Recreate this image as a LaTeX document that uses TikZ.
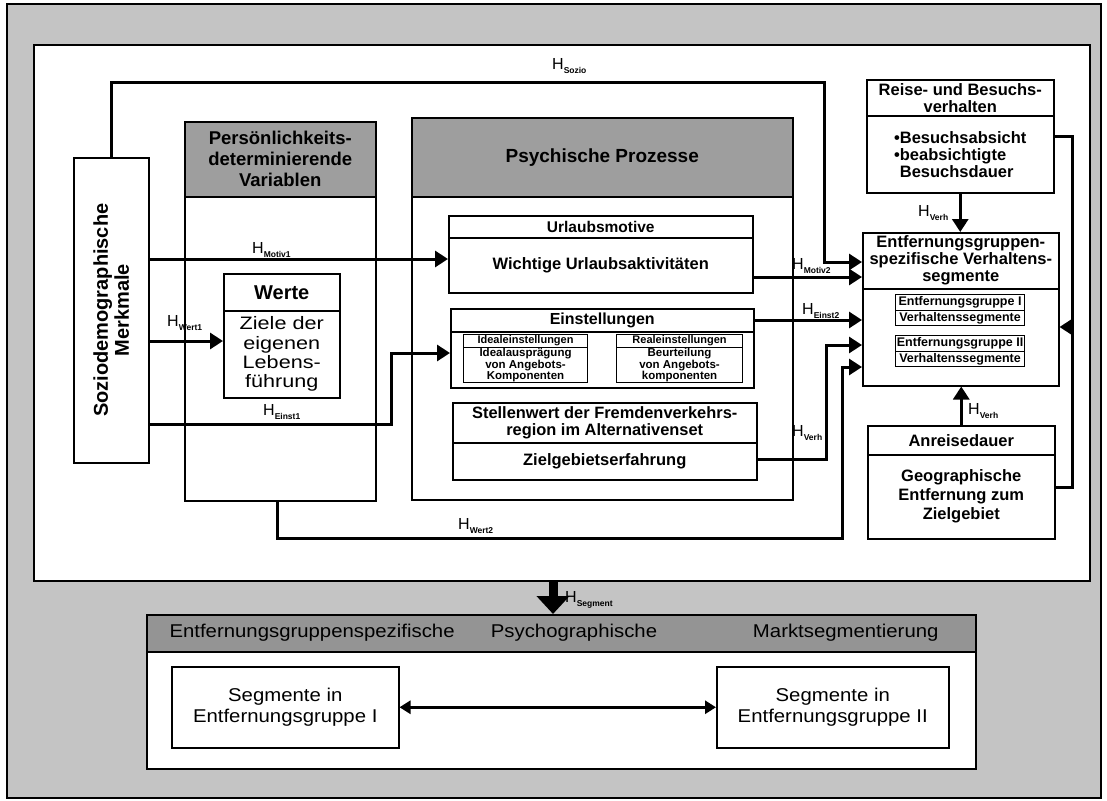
\documentclass[tikz,border=0pt]{standalone}
\usepackage{fontspec}
\setmainfont{Liberation Sans}
\newfontfamily\widefont[FakeStretch=1.1]{Liberation Sans}
\newfontfamily\werfont[FakeStretch=1.2]{Liberation Sans}
\usetikzlibrary{arrows.meta}
\definecolor{bggray}{gray}{0.77}
\definecolor{hdgray}{gray}{0.62}
\definecolor{btgray}{gray}{0.58}
\newcommand\fsz[2]{\fontsize{#1}{#2}\selectfont}
\newcommand\hlab[1]{{\fsz{16}{16}H}{\fsz{8.5}{9}\bfseries\raisebox{-4pt}{#1}}}

\begin{document}
\begin{tikzpicture}[x=1pt,y=-1pt,
  bx/.style={draw, line width=1.5pt, fill=white, inner sep=0pt, anchor=north west, align=center},
  sbx/.style={bx, line width=1.1pt},
  wh/.style 2 args={minimum width=#1pt, minimum height=#2pt},
  hd/.style={fill=hdgray},
  conn/.style={line width=3pt},
  arr/.style={conn, -{Triangle[length=13pt,width=16pt]}},
  hl/.style={anchor=base west, inner sep=0pt},
  bot/.style={font={\widefont\fsz{18.5}{21}}},
]
\useasboundingbox (0,0) rectangle (1107,800);
\fill[white] (0,0) rectangle (1107,800);

% screened background and white working panel
\filldraw[fill=bggray, draw=black, line width=1.5pt] (7,4) rectangle (1101,798);
\node[bx, wh={1056}{536}, line width=1.6pt] (panel) at (33,44) {};

% socio-demographic characteristics
\node[bx, wh={75}{305}] (soz) at (73,157) {};
\node[rotate=90, align=center, font={\fsz{20}{21}\bfseries}] (sozT) at (soz.center) {Soziodemographische\\Merkmale};

% personality variables
\node[bx, hd, wh={191}{75}, font={\fsz{18.5}{21}\bfseries}] (persH) at (184,121) {Persönlichkeits-\\determinierende\\Variablen};
\node[bx, wh={191}{304}] (persB) at (184,196) {};

% psychological processes
\node[bx, hd, wh={381}{79}, font={\fsz{19}{21}\bfseries}] (psyH) at (411,117) {Psychische Prozesse};
\node[bx, wh={381}{303}] (psyB) at (411,196) {};

\node[bx, wh={304}{22}, font={\fsz{15.5}{16}\bfseries}] (urlH) at (448,215) {Urlaubsmotive};
\node[bx, wh={304}{55}, font={\fsz{16.5}{17}\bfseries}] (urlB) at (448,237) {Wichtige Urlaubsaktivitäten};

\node[bx, wh={303}{23}, font={\fsz{16}{17}\bfseries}] (einH) at (450,308) {Einstellungen};
\node[bx, wh={303}{56}] (einB) at (450,331) {};
\node[sbx, wh={124}{13}, font={\fsz{11}{11}\bfseries}] (idH) at (463,334) {Idealeinstellungen};
\node[sbx, wh={124}{35}, font={\fsz{11.5}{10.5}\bfseries}] (idB) at (463,347) {Idealausprägung\\von Angebots-\\Komponenten};
\node[sbx, wh={126}{13}, font={\fsz{11}{11}\bfseries}] (reH) at (616,334) {Realeinstellungen};
\node[sbx, wh={126}{35}, font={\fsz{11.5}{10.5}\bfseries}] (reB) at (616,347) {Beurteilung\\von Angebots-\\komponenten};

\node[bx, wh={304}{40}, font={\fsz{16.4}{17}\bfseries}] (stH) at (452,402) {Stellenwert der Fremdenverkehrs-\\region im Alternativenset};
\node[bx, wh={304}{37}, font={\fsz{16.5}{17}\bfseries}] (stB) at (452,442) {Zielgebietserfahrung};

% values
\node[bx, wh={116}{37}, font={\fsz{20}{21}\bfseries}] (werH) at (223,273) {Werte};
\node[bx, wh={116}{87}, font={\werfont\fsz{18}{19.3}}] (werB) at (223,310) {Ziele der\\eigenen\\Lebens-\\führung};

% travel behaviour
\node[bx, wh={187}{36}, font={\fsz{16.5}{17}\bfseries}] (reiH) at (866,79) {Reise- und Besuchs-\\verhalten};
\node[bx, wh={187}{77}, font={\fsz{16.5}{17}\bfseries}, align=left] (reiB) at (866,115) {\textbullet Besuchsabsicht\\\textbullet beabsichtigte\\\phantom{\textbullet}Besuchsdauer};

% distance-group behaviour segments
\node[bx, wh={196}{56}, font={\fsz{16.5}{17}\bfseries}] (entH) at (862,232) {Entfernungsgruppen-\\spezifische Verhaltens-\\segmente};
\node[bx, wh={196}{97}] (entB) at (862,288) {};
\node[sbx, wh={129}{16}, font={\fsz{12.5}{13}\bfseries}] (g1H) at (895,294) {Entfernungsgruppe I};
\node[sbx, wh={129}{15}, font={\fsz{12.5}{13}\bfseries}] (g1B) at (895,310) {Verhaltenssegmente};
\node[sbx, wh={129}{16}, font={\fsz{12.5}{13}\bfseries}] (g2H) at (895,335) {Entfernungsgruppe II};
\node[sbx, wh={129}{15}, font={\fsz{12.5}{13}\bfseries}] (g2B) at (895,351) {Verhaltenssegmente};

% travel time
\node[bx, wh={187}{29}, font={\fsz{16.5}{17}\bfseries}] (anH) at (867,425) {Anreisedauer};
\node[bx, wh={187}{84}, font={\fsz{16.5}{19}\bfseries}] (anB) at (867,454) {Geographische\\Entfernung zum\\Zielgebiet};

% market segmentation
\node[bx, wh={829}{37}, fill=btgray] (botH) at (146,614) {};
\node[bx, wh={829}{117}] (botB) at (146,651) {};
\node[bot, anchor=west] (bt1) at (166,632.5) {Entfernungsgruppenspezifische};
\node[bot] (bt2) at (574,632.5) {Psychographische};
\node[bot, anchor=east] (bt3) at (942,632.5) {Marktsegmentierung};
\node[bx, bot, wh={227}{81}] (s1) at (171,666) {Segmente in\\Entfernungsgruppe I};
\node[bx, bot, wh={232}{81}] (s2) at (716,666) {Segmente in\\Entfernungsgruppe II};

% hypotheses
\coordinate (cSoz) at (824,82);
\draw[arr] (soz.north) |- (cSoz) |- (entH.west |- 0,262);
\draw[arr] (soz.east |- 0,259) -- (urlB.west |- 0,259);
\draw[arr] (soz.east |- 0,341) -- (werB.west |- 0,341);
\coordinate (cE1) at (391,424);
\draw[arr] (soz.east |- cE1) -- (cE1) |- (einB.west |- 0,353);
\coordinate (cW2a) at (277,538);
\coordinate (cW2b) at (842,367);
\draw[arr] (persB.south -| cW2a) -- (cW2a) -| (cW2b) -- (entB.west |- cW2b);
\draw[arr] (urlB.east |- 0,277) -- (entH.west |- 0,277);
\draw[arr] (einH.east |- 0,320) -- (entB.west |- 0,320);
\coordinate (cV) at (826,345);
\draw[arr] (stB.east |- 0,459) -| (cV) -- (entB.west |- cV);
\draw[arr] (reiB.south) -- (reiB.south |- entH.north);
\draw[arr] (anH.north) -- (anH.north |- entB.south);
\coordinate (fbT) at (1072,136);
\coordinate (fbB) at (1072,487);
\draw[conn] (reiB.east |- fbT) -- (fbT) -- (fbB) -- (anB.east |- fbB);
\draw[arr] (fbT |- 0,327) -- (entB.east |- 0,327);

\coordinate (cSeg) at (553,0);
\draw[line width=9pt, -{Triangle[length=18pt,width=32pt]}] (panel.south -| cSeg) -- (botH.north -| cSeg);
\draw[conn, {Triangle[length=11pt,width=13pt]}-{Triangle[length=11pt,width=13pt]}] (s1.east) -- (s2.west);

% hypothesis labels
\node[hl] (lSoz) at (552,70) {\hlab{Sozio}};
\node[hl] (lM1) at (252,253) {\hlab{Motiv1}};
\node[hl] (lW1) at (167,326) {\hlab{Wert1}};
\node[hl] (lE1) at (263,415) {\hlab{Einst1}};
\node[hl] (lW2) at (458,529) {\hlab{Wert2}};
\node[hl] (lM2) at (792,269) {\hlab{Motiv2}};
\node[hl] (lE2) at (802,314) {\hlab{Einst2}};
\node[hl] (lV1) at (792,436) {\hlab{Verh}};
\node[hl] (lV2) at (918,216) {\hlab{Verh}};
\node[hl] (lV3) at (968,414) {\hlab{Verh}};
\node[hl] (lSeg) at (565,602) {\hlab{Segment}};
\end{tikzpicture}
\end{document}
